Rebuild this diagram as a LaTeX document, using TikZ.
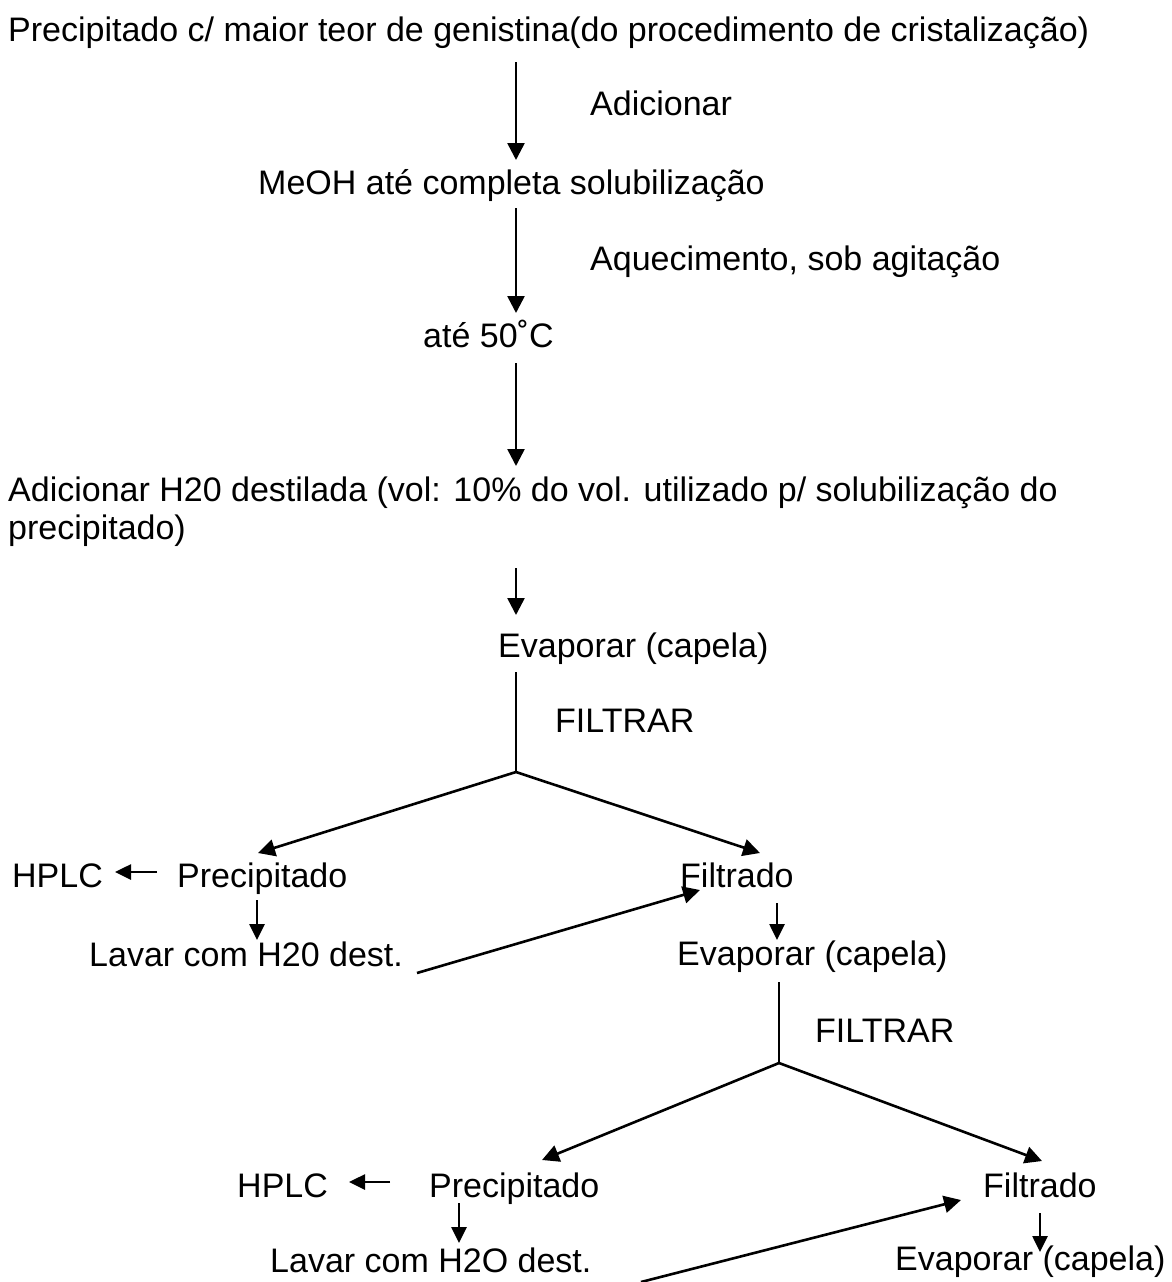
\documentclass[tikz,border=0pt]{standalone}
\usepackage{fontspec}
\setmainfont{Liberation Sans}
\usetikzlibrary{arrows.meta}
\begin{document}
\begin{tikzpicture}[x=1pt,y=-1pt,
  txt/.style={anchor=base west,inner sep=0pt,font=\fontsize{34}{40}\selectfont},
  arr/.style={line width=2.6pt,-{Triangle[length=17pt,width=17pt]}},
  sarr/.style={line width=2.6pt,-{Triangle[length=16pt,width=15pt]}},
  ln/.style={line width=1.7pt},
  bln/.style={line width=2.6pt}]
\useasboundingbox (0,0) rectangle (1171,1282);
% texts
\node[txt] (t1) at (8,41) {Precipitado c/ maior teor de genistina(do procedimento de cristalização)};
\node[txt] (adic) at (590,115) {Adicionar};
\node[txt] (meoh) at (258,194) {MeOH até completa solubilização};
\node[txt] (aquec) at (590,270) {Aquecimento, sob agitação};
\node[txt] (ate) at (423,347) {até 50˚C};
\node[txt] (h20a) at (8,501) {Adicionar H20 destilada (vol: 10\% do vol. utilizado p/ solubilização do};
\node[txt] (h20b) at (8,539) {precipitado)};
\node[txt] (evap1) at (498,657) {Evaporar (capela)};
\node[txt] (filt1) at (555,732) {FILTRAR};
\node[txt] (hplc1) at (12,887) {HPLC};
\node[txt] (prec1) at (177,887) {Precipitado};
\node[txt] (filtr1) at (680,887) {Filtrado};
\node[txt] (lav1) at (89,966) {Lavar com H20 dest.};
\node[txt] (evap2) at (677,965) {Evaporar (capela)};
\node[txt] (filt2) at (815,1042) {FILTRAR};
\node[txt] (hplc2) at (237,1197) {HPLC};
\node[txt] (prec2) at (429,1197) {Precipitado};
\node[txt] (filtr2) at (983,1197) {Filtrado};
\node[txt] (lav2) at (270,1272) {Lavar com H2O dest.};
\node[txt] (evap3) at (895,1270) {Evaporar (capela)};
% coordinates
\coordinate (a1s) at (516,62);   \coordinate (a1e) at (516,160);
\coordinate (a2s) at (516,208);  \coordinate (a2e) at (516,313);
\coordinate (a3s) at (516,363);  \coordinate (a3e) at (516,466);
\coordinate (a4s) at (516,568);  \coordinate (a4e) at (516,615);
\coordinate (f1s) at (516,672);  \coordinate (b1) at (516,772);
\coordinate (b1l) at (258,853);  \coordinate (b1r) at (760,853);
\coordinate (h1s) at (157,872);  \coordinate (h1e) at (115,872);
\coordinate (p1s) at (257,900);  \coordinate (p1e) at (257,940);
\coordinate (l1s) at (417,973);  \coordinate (l1e) at (700,890);
\coordinate (fd1s) at (777,903); \coordinate (fd1e) at (777,940);
\coordinate (f2s) at (779,982);  \coordinate (b2) at (779,1063);
\coordinate (b2l) at (542,1160); \coordinate (b2r) at (1042,1161);
\coordinate (h2s) at (390,1182); \coordinate (h2e) at (349,1182);
\coordinate (p2s) at (459,1203); \coordinate (p2e) at (459,1243);
\coordinate (l2s) at (641,1282); \coordinate (l2e) at (961,1200);
\coordinate (fd2s) at (1040,1213); \coordinate (fd2e) at (1040,1252);
% connectors
\draw[arr] (a1s) -- (a1e);
\draw[arr] (a2s) -- (a2e);
\draw[arr] (a3s) -- (a3e);
\draw[arr] (a4s) -- (a4e);
\draw[ln] (f1s) -- (b1);
\draw[arr] (b1) -- (b1l);
\draw[arr] (b1) -- (b1r);
\draw[sarr] (h1s) -- (h1e);
\draw[sarr] (p1s) -- (p1e);
\draw[arr] (l1s) -- (l1e);
\draw[sarr] (fd1s) -- (fd1e);
\draw[ln] (f2s) -- (b2);
\draw[arr] (b2) -- (b2l);
\draw[arr] (b2) -- (b2r);
\draw[sarr] (h2s) -- (h2e);
\draw[sarr] (p2s) -- (p2e);
\draw[arr] (l2s) -- (l2e);
\draw[sarr] (fd2s) -- (fd2e);
\end{tikzpicture}
\end{document}
